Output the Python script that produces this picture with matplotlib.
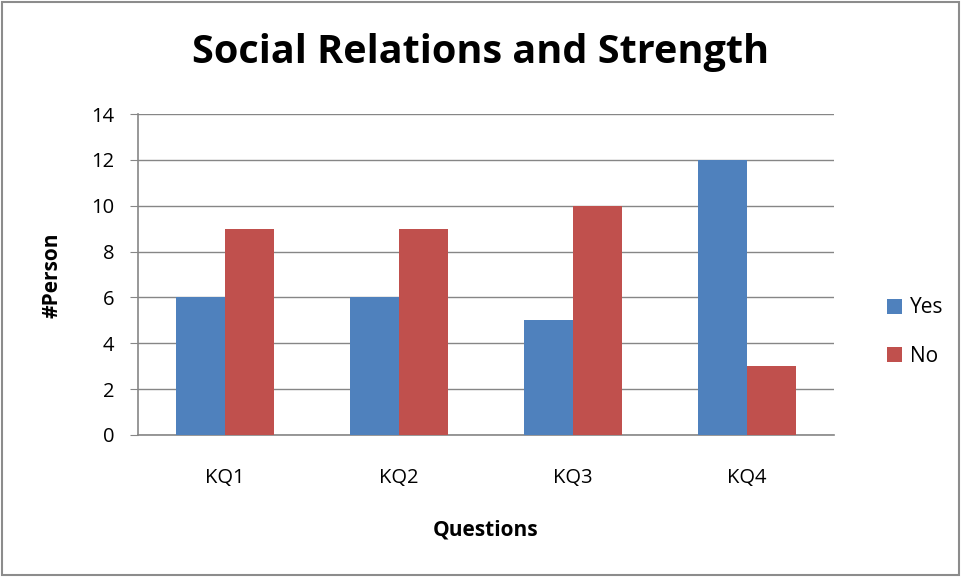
import numpy as np
import matplotlib.pyplot as plt
from matplotlib.patches import Rectangle

categories = ["KQ1", "KQ2", "KQ3", "KQ4"]
yes_vals = [6, 6, 5, 12]
no_vals = [9, 9, 10, 3]
series_names = ["Yes", "No"]

plt.rcParams['font.family'] = ['Open Sans', 'DejaVu Sans']

fig = plt.figure(figsize=(9.61, 5.77), dpi=100)
fig.patches.append(Rectangle((0.002, 0.003), 0.996, 0.994, transform=fig.transFigure,
                             fill=False, edgecolor='#8c8c8c', linewidth=1.5))
ax = fig.add_axes([138 / 961, 142 / 577, 696 / 961, 321 / 577])

x = np.arange(len(categories))
w = 0.28
b1 = ax.bar(x - w / 2, yes_vals, w, color='#4F81BD', label=series_names[0], zorder=3)
b2 = ax.bar(x + w / 2, no_vals, w, color='#C0504D', label=series_names[1], zorder=3)

ax.set_xlim(-0.5, len(categories) - 0.5)
ax.set_ylim(0, 14)
ax.set_yticks(range(0, 15, 2))
ax.set_xticks(x)
ax.set_xticklabels(categories)
ax.yaxis.grid(True, color='#868686', linewidth=1, zorder=0)
for s in ['top', 'right']:
    ax.spines[s].set_visible(False)
for s in ['left', 'bottom']:
    ax.spines[s].set_color('#868686')
    ax.spines[s].set_linewidth(1.2)
ax.tick_params(axis='y', length=6, color='#868686', labelsize=14.5, pad=11)
ax.tick_params(axis='x', length=0, labelsize=14.5, pad=24)

fig.text(0.5, 1 - 52 / 577, "Social Relations and Strength", ha='center', va='center',
         fontsize=28.5, fontweight='bold')
fig.text(486 / 961, 1 - 530 / 577, "Questions", ha='center', va='center',
         fontsize=15, fontweight='bold')
fig.text(52 / 961, 1 - 275 / 577, "#Person", ha='center', va='center',
         fontsize=15, fontweight='bold', rotation=90)

fig.legend(handles=[b1, b2], labels=series_names, loc='center left',
           bbox_to_anchor=(868 / 961, 1 - 332 / 577), frameon=False, fontsize=15,
           handlelength=0.75, handleheight=0.75, handletextpad=0.35, labelspacing=1.3)

fig.savefig("out.png", dpi=100)
